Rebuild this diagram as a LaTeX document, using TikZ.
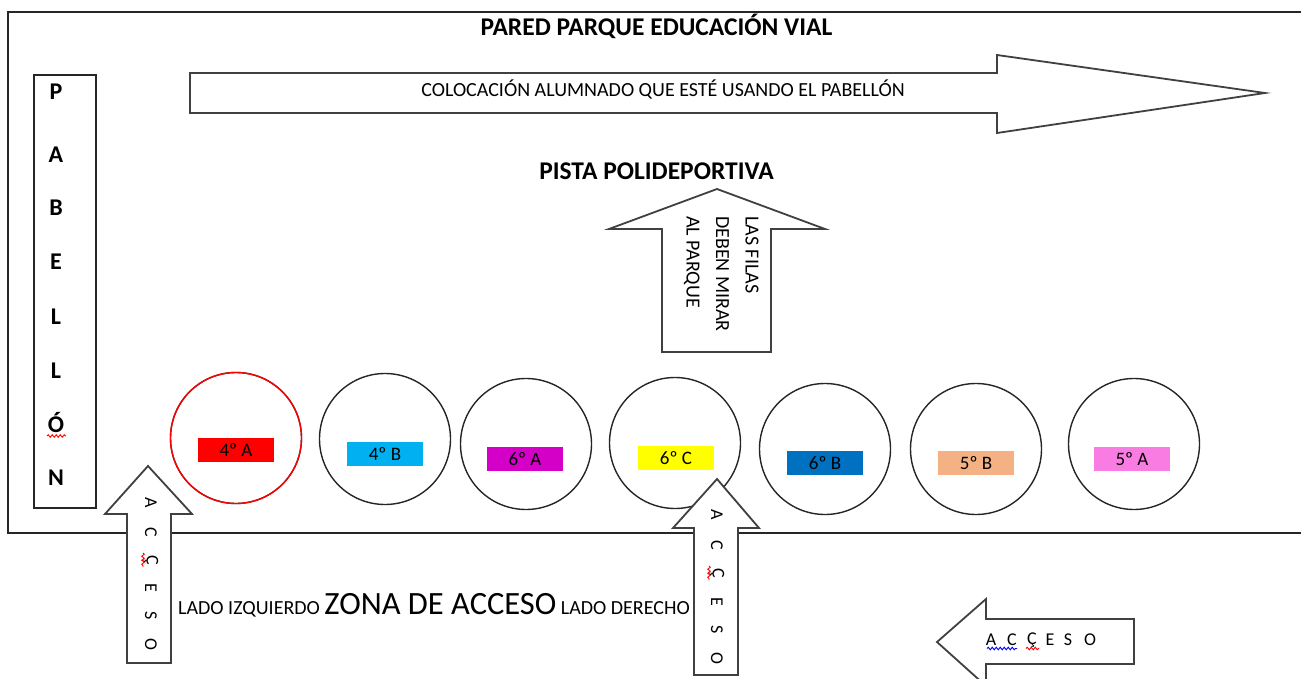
\documentclass[tikz,border=0pt]{standalone}
\usepackage{fontspec}
\setmainfont{Carlito}
\usetikzlibrary{decorations.pathmorphing}
\definecolor{lblred}{HTML}{FF0000}
\definecolor{lblcyan}{HTML}{00B0F0}
\definecolor{lblmag}{HTML}{D400C8}
\definecolor{lblyel}{HTML}{FFFF00}
\definecolor{lblblue}{HTML}{0070C0}
\definecolor{lblpeach}{HTML}{F4B183}
\definecolor{lblpink}{HTML}{F87CE2}
\definecolor{outl}{HTML}{404040}
\tikzset{
  frameline/.style={line width=1.5pt, draw=black!85},
  bigarrow/.style={line width=1.8pt, draw=outl, fill=white, line join=miter},
  group/.style={circle, draw=black!85, line width=1.4pt, minimum size=131pt, inner sep=0pt},
  grouplbl/.style={rectangle, minimum width=76pt, minimum height=24pt, inner sep=0pt, font=\fontsize{19}{22}\selectfont},
  vletter/.style={rotate=-90, inner sep=0pt, font=\fontsize{18}{20}\selectfont},
  hletter/.style={inner sep=0pt, font=\fontsize{18}{20}\selectfont},
  pletter/.style={inner sep=0pt, anchor=base, font=\bfseries\fontsize{24}{26}\selectfont},
  squig/.style={decorate, decoration={snake, segment length=4pt, amplitude=1.3pt}, line width=0.9pt},
}
\begin{document}
\begin{tikzpicture}[x=1pt,y=-1pt]
\useasboundingbox (0,0) rectangle (1301,679);
% outer frame (right side beyond page)
\draw[frameline] (1305,12) -- (8,12) -- (8,533) -- (1305,533);
% title
\node[anchor=base, inner sep=0pt, font=\bfseries\fontsize{25.5}{28}\selectfont] (title) at (656.5,35.5) {PARED PARQUE EDUCACIÓN VIAL};
% pabellon box
\draw[frameline] (34,75) rectangle (96,508);
\foreach \l/\yy [count=\i] in {P/92,A/155,B/208,E/262,L/317,L/371,Ó/425,N/478}{
  \node[pletter] (pab\i) at (56,\yy+7.5) {\l};
}
\draw[squig, red] (47,436) -- (66,436);
% top arrow
\draw[bigarrow] (190,73) -- (997,73) -- (997,55) -- (1265,93) -- (997,133) -- (997,113) -- (190,113) -- cycle;
\node[anchor=base, inner sep=0pt, font=\fontsize{20}{24}\selectfont] (coloc) at (663,96.5) {COLOCACIÓN ALUMNADO QUE ESTÉ USANDO EL PABELLÓN};
% pista
\node[anchor=base, inner sep=0pt, font=\bfseries\fontsize{25.5}{28}\selectfont] (pista) at (656.5,180) {PISTA POLIDEPORTIVA};
% up arrow
\draw[bigarrow] (717,189) -- (825,229) -- (771,229) -- (771,352) -- (662,352) -- (662,229) -- (609,229) -- cycle;
\node[rotate=-90, anchor=base west, inner sep=0pt, align=left, font=\fontsize{20}{29.5}\selectfont] (filas) at (686.5,216) {LAS FILAS\\DEBEN MIRAR\\AL PARQUE};
% groups
\foreach \nm/\cx/\cy/\lx/\ly/\col/\txt in {
  g1/236/438/236/450/lblred/{4º A},
  g2/385/439/385/454/lblcyan/{4º B},
  g3/526/444/525/459/lblmag/{6º A},
  g4/675/443/676/458/lblyel/{6º C},
  g5/825/449/825/463/lblblue/{6º B},
  g6/976/449/976/463/lblpeach/{5º B},
  g7/1134/444/1132/459/lblpink/{5º A}}{
  \node[group] (\nm) at (\cx,\cy) {};
  \node[grouplbl, fill=\col] (\nm l) at (\lx,\ly) {\txt};
}
\node[group, draw=red] (g1r) at (236,438) {};
% bottom text
\node[anchor=base west, inner sep=0pt] (zona) at (178,614) {\fontsize{20}{24}\selectfont LADO IZQUIERDO {\fontsize{32.5}{36}\selectfont ZONA DE ACCESO} LADO DERECHO};
% left access arrow
\draw[bigarrow] (148,466) -- (192,514) -- (171,514) -- (171,663) -- (127,663) -- (127,514) -- (105,514) -- cycle;
\foreach \l/\yy [count=\i] in {A/503,C/532,Ç/560,E/588,S/616,O/644}{
  \node[vletter] (la\i) at (151,\yy) {\l};
}
\draw[squig, red] (143,553) -- (143,567);
% middle access arrow
\draw[bigarrow] (717,479) -- (759,528) -- (738,528) -- (738,675) -- (694,675) -- (694,528) -- (673,528) -- cycle;
\foreach \l/\yy [count=\i] in {A/515,C/545,Ç/573,E/602,S/630,O/658}{
  \node[vletter] (ma\i) at (717,\yy) {\l};
}
\draw[squig, red] (709,566) -- (709,580);
% bottom right access arrow
\draw[bigarrow] (937,642) -- (986,599) -- (986,619) -- (1134,619) -- (1134,664) -- (986,664) -- (986,686) -- cycle;
\foreach \l/\xx [count=\i] in {A/991,C/1012,Ç/1032,E/1050,S/1068,O/1090}{
  \node[hletter] (ra\i) at (\xx,640) {\l};
}
\draw[squig, blue] (987,648.5) -- (1017,648.5);
\draw[squig, red] (1026,648.5) -- (1039,648.5);
\end{tikzpicture}
\end{document}
